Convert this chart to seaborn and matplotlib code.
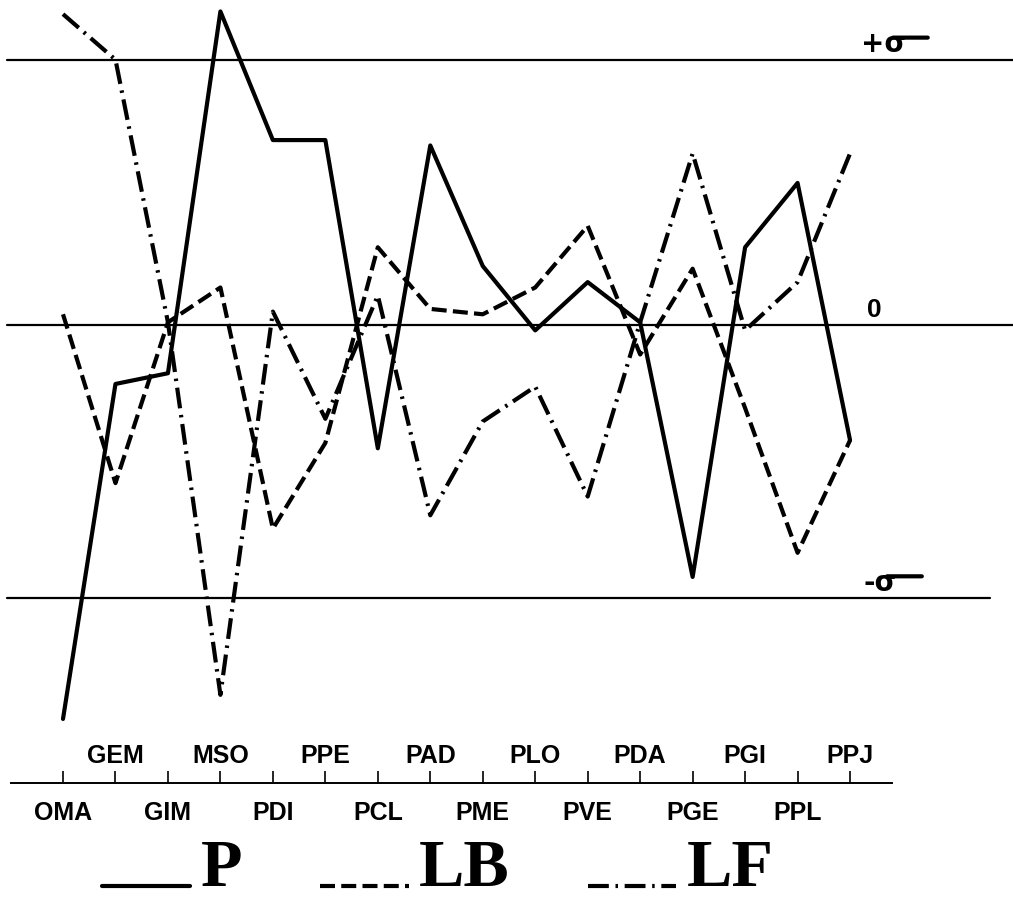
"""Profile chart: P, LB and LF standardised scores across sixteen measures."""

import matplotlib

matplotlib.use("Agg")
import matplotlib.pyplot as plt  # noqa: E402
import numpy as np  # noqa: E402
import pandas as pd  # noqa: E402
import seaborn as sns  # noqa: E402
from matplotlib.legend_handler import HandlerLine2D  # noqa: E402

CATEGORIES = ["OMA", "GEM", "GIM", "MSO", "PDI", "PPE", "PCL", "PAD",
              "PME", "PLO", "PVE", "PDA", "PGE", "PGI", "PPL", "PPJ"]

# values in sigma units
P_VALUES = [-1.47, -0.22, -0.18, 1.17, 0.69, 0.69, -0.46, 0.67,
            0.22, -0.02, 0.16, 0.01, -0.94, 0.29, 0.53, -0.43]
LB_VALUES = [0.04, -0.59, 0.01, 0.14, -0.76, -0.44, 0.29, 0.06,
             0.04, 0.14, 0.37, -0.11, 0.21, -0.31, -0.85, -0.43]
LF_VALUES = [1.16, 0.99, 0.01, -1.38, 0.05, -0.35, 0.11, -0.71,
             -0.36, -0.23, -0.64, 0.01, 0.64, -0.02, 0.16, 0.64]

SERIES = ["P", "LB", "LF"]
REF_LEVELS = [0.99, 0.0, -1.02]
REF_LABELS = ["+σ", "0", "-σ"]


def build_frame():
    rows = []
    for name, values in zip(SERIES, [P_VALUES, LB_VALUES, LF_VALUES]):
        for pos, (cat, val) in enumerate(zip(CATEGORIES, values)):
            rows.append({"pos": pos, "measure": cat, "value": val, "series": name})
    return pd.DataFrame(rows)


class BaselineHandler(HandlerLine2D):
    """Draw legend samples at the text baseline, like typed underscores."""

    def create_artists(self, legend, orig_handle, xdescent, ydescent,
                       width, height, fontsize, trans):
        artists = super().create_artists(legend, orig_handle, xdescent, ydescent,
                                         width, height, fontsize, trans)
        for artist in artists:
            artist.set_ydata(np.zeros_like(artist.get_ydata()))
        return artists


def main():
    sns.set_style("white")
    plt.rcParams["font.family"] = ["Liberation Sans", "DejaVu Sans"]
    for key in ["text.color", "xtick.color", "xtick.labelcolor", "axes.edgecolor"]:
        plt.rcParams[key] = "black"

    df = build_frame()

    fig = plt.figure(figsize=(10.13, 9.05), dpi=100)
    ax = fig.add_axes([0, 0, 1, 1])

    dashes = {"P": "", "LB": (3.6, 1.5), "LF": (5.0, 1.6, 0.6, 1.6)}
    sns.lineplot(data=df, x="pos", y="value", style="series", dashes=dashes,
                 color="black", linewidth=3, sort=False, legend=False, ax=ax)

    for level, label in zip(REF_LEVELS, REF_LABELS):
        xmax = 0.977 if level < 0 else 1.0
        ax.axhline(level, xmin=0.007, xmax=xmax, color="black", lw=1.6, zorder=1)
        if label == "0":
            ax.text(15.32, level + 0.01, label, fontsize=19, fontweight="bold",
                    ha="left", va="bottom")
            continue
        txt = ax.text(15.2 if label.startswith("+") else 15.25, level + 0.005, label,
                      fontsize=20, fontweight="bold", ha="left", va="bottom",
                      family="DejaVu Sans")
        # long top stroke of the typed sigma
        ax.annotate("", xy=(0.72, 0.74), xycoords=txt, xytext=(25, 0),
                    textcoords="offset points",
                    arrowprops=dict(arrowstyle="-", lw=3, color="black",
                                    shrinkA=0, shrinkB=0))

    ax.set_xlim(-63 / 52.47, (1013 - 63) / 52.47)
    ax.set_ylim((325 - 905) / 268, 325 / 268)

    for side in ["top", "left", "right"]:
        ax.spines[side].set_visible(False)
    ax.spines["bottom"].set_position(("data", (325 - 783) / 268))
    ax.spines["bottom"].set_bounds(-1.0, 15.8)
    ax.spines["bottom"].set_linewidth(1.4)

    even = np.arange(0, len(CATEGORIES), 2)
    odd = np.arange(1, len(CATEGORIES), 2)
    ax.set_xticks(even, [CATEGORIES[i] for i in even])
    ax.set_xticks(odd, [CATEGORIES[i] for i in odd], minor=True)
    ax.tick_params(axis="x", which="both", direction="in", length=9,
                   width=1.2, labelsize=18, bottom=True)
    ax.tick_params(axis="x", which="major", pad=13)
    ax.tick_params(axis="x", which="minor", pad=-28)
    for label in ax.get_xticklabels(which="both"):
        label.set_fontweight("bold")
    ax.set_yticks([])
    ax.set_xlabel("")
    ax.set_ylabel("")

    handles = ax.get_lines()[:3]
    fig.legend(handles, SERIES, loc="lower center", bbox_to_anchor=(0.432, -0.04),
               ncol=3, frameon=False, handlelength=1.3, handletextpad=0.15,
               columnspacing=1.15, borderpad=0.1,
               handler_map={line: BaselineHandler() for line in handles},
               prop={"family": "Liberation Serif", "weight": "bold", "size": 49})

    fig.savefig("out.png", dpi=100, facecolor="white")
    plt.close(fig)


if __name__ == "__main__":
    main()
